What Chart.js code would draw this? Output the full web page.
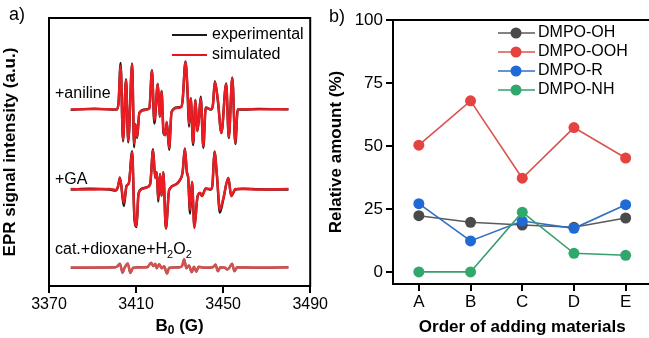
<!DOCTYPE html>
<html>
<head>
<meta charset="utf-8">
<script src="https://cdn.jsdelivr.net/npm/chart.js@4.4.0/dist/chart.umd.min.js"></script>
<style>
html, body { margin: 0; padding: 0; overflow: hidden; background: #fff; width: 649px; height: 338px; }
#epr { position: absolute; left: 0; top: 0; }
#amount { position: absolute; left: 326px; top: 0; }
</style>
</head>
<body>
<canvas id="epr" width="330" height="338"></canvas>
<canvas id="amount" width="331" height="338"></canvas>
<script>
// ---- panel a: EPR spectra (field in G, intensity in a.u., stacked as in the figure)
var anilineField = [3380, 3391, 3401, 3401.9, 3402.9, 3404.0, 3405.4, 3406.4, 3408.2, 3409.1, 3409.7, 3410.5, 3411.5, 3414.3, 3416.1, 3417.3, 3418.4, 3420.0, 3420.9, 3421.7, 3422.6, 3423.4, 3424.1, 3425.2, 3426.3, 3428.9, 3430.7, 3431.4, 3432.7, 3433.7, 3434.3, 3435.1, 3436.2, 3437.3, 3438.1, 3438.9, 3439.7, 3440.9, 3442.0, 3444.4, 3445.3, 3446.2, 3447.6, 3449.2, 3451.4, 3452.6, 3454.2, 3455.6, 3456.7, 3459.4, 3466.3, 3480];
var anilineSim = [65.9, 66.0, 65.9, 67.9, 82.1, 54.5, 76.9, 54.1, 82.8, 53.0, 60.4, 55.6, 64.6, 65.7, 66.4, 80.2, 61.9, 75.4, 63.1, 72.8, 58.2, 56.3, 61.2, 51.5, 64.9, 66.4, 66.8, 69.4, 83.6, 73.1, 60.4, 70.1, 53.4, 69.4, 57.8, 62.7, 70.1, 52.2, 66.4, 66.0, 67.5, 76.1, 69.4, 57.1, 75.4, 55.6, 77.6, 53.4, 65.7, 66.0, 65.9, 66.0];
var anilineExp = [65.7, 66.2, 65.8, 67.9, 83.2, 54.0, 77.2, 53.6, 83.0, 51.8, 60.4, 55.2, 64.6, 65.9, 66.2, 80.5, 60.6, 75.4, 63.1, 72.8, 57.0, 56.3, 61.2, 50.8, 64.9, 66.6, 66.8, 69.4, 83.8, 71.2, 59.5, 70.1, 52.6, 69.4, 57.8, 62.7, 70.6, 51.6, 66.6, 65.8, 67.5, 76.4, 68.8, 57.1, 75.6, 55.2, 77.8, 53.0, 65.9, 65.8, 66.1, 65.9];

var gaField = [3380, 3388.7, 3397.8, 3400.6, 3401.7, 3402.6, 3404.4, 3405.6, 3406.7, 3408.2, 3409.2, 3410.2, 3411.1, 3412.9, 3415.2, 3416.5, 3417.8, 3418.8, 3419.5, 3420.2, 3421.0, 3421.7, 3422.5, 3423.7, 3425.2, 3427.9, 3430.2, 3431.4, 3432.4, 3433.4, 3433.9, 3434.8, 3435.7, 3436.8, 3438.2, 3439.4, 3440.3, 3442.0, 3444.4, 3445.1, 3446.0, 3447.2, 3448.5, 3450.0, 3452.4, 3453.7, 3455.6, 3459.4, 3466.3, 3480];
var gaSim = [36.2, 36.0, 36.2, 35.8, 37.3, 40.3, 31.0, 37.3, 38.4, 50.0, 26.9, 22.4, 34.3, 36.2, 36.9, 38.1, 50.7, 40.3, 42.5, 32.5, 41.8, 33.6, 42.5, 21.6, 35.8, 37.7, 39.6, 42.5, 51.1, 42.5, 40.7, 28.4, 38.8, 21.6, 33.2, 34.7, 33.6, 36.2, 36.2, 37.7, 50.0, 41.0, 28.4, 32.5, 40.3, 33.6, 36.2, 36.2, 36.0, 36.2];
var gaExp = [36.0, 36.3, 36.0, 35.6, 37.0, 40.5, 29.8, 37.3, 38.4, 50.3, 25.8, 22.0, 34.3, 36.4, 36.9, 38.1, 51.0, 40.3, 42.5, 31.5, 41.8, 33.6, 42.5, 21.4, 35.8, 37.7, 39.6, 42.5, 51.3, 42.0, 40.7, 27.0, 38.8, 22.2, 33.2, 34.7, 33.6, 36.4, 36.0, 37.7, 50.2, 40.6, 27.4, 32.0, 40.3, 33.6, 36.0, 36.3, 36.1, 36.0];

var catField = [3380, 3400.1, 3401.5, 3402.6, 3403.8, 3404.7, 3406.2, 3407.4, 3408.6, 3411.5, 3415.2, 3416.9, 3417.9, 3418.8, 3419.5, 3420.6, 3421.8, 3422.9, 3424.2, 3425.2, 3429.8, 3431.1, 3432.1, 3433.1, 3434.3, 3435.6, 3436.6, 3437.7, 3438.7, 3441.6, 3445.3, 3446.5, 3447.6, 3448.7, 3450.8, 3451.9, 3452.8, 3454.1, 3455.2, 3456.4, 3466.3, 3480];
var catSim = [6.9, 6.9, 7.5, 8.2, 5.0, 6.7, 8.4, 4.9, 6.7, 6.9, 7.1, 8.6, 7.5, 8.2, 6.7, 8.0, 6.7, 7.3, 4.7, 6.7, 6.9, 7.5, 9.9, 6.7, 7.6, 5.2, 7.1, 5.4, 7.1, 6.9, 7.1, 7.9, 5.6, 6.9, 6.9, 6.2, 6.7, 8.2, 5.6, 6.9, 6.9, 6.9];
var catExp = [6.8, 7.0, 7.4, 8.3, 4.9, 6.8, 8.3, 4.8, 6.8, 7.0, 7.0, 8.7, 7.4, 8.3, 6.6, 8.1, 6.6, 7.4, 4.6, 6.8, 7.0, 7.4, 10.0, 6.6, 7.7, 5.1, 7.2, 5.3, 7.2, 6.8, 7.0, 8.0, 5.5, 7.0, 6.8, 6.1, 6.8, 8.3, 5.5, 7.0, 6.8, 7.0];

var fieldTicks = [3370, 3410, 3450, 3490];

// ---- panel b: relative amounts (%)
var orders = ['A', 'B', 'C', 'D', 'E'];
var dmpoOH = [22.3, 19.7, 18.6, 17.7, 21.4];
var dmpoOOH = [50.3, 67.9, 37.2, 57.3, 45.2];
var dmpoR = [27.1, 12.3, 20.2, 17.3, 26.7];
var dmpoNH = [0, 0, 23.7, 7.4, 6.6];
var amountTicks = [0, 25, 50, 75, 100];

var FONT = '"Liberation Sans", Arial, sans-serif';
Chart.defaults.font.family = FONT;
Chart.defaults.color = '#000';

function pts(xs, ys) {
  return xs.map(function (x, i) { return { x: x, y: ys[i] }; });
}

var framePlugin = {
  id: 'frame',
  afterDraw: function (chart) {
    var a = chart.chartArea, c = chart.ctx;
    c.save();
    c.strokeStyle = '#000';
    c.lineWidth = 2;
    c.strokeRect(a.left, a.top, a.right - a.left, a.bottom - a.top);
    c.restore();
  }
};

// text with subscripts: runs of [text, isSub]
function textRuns(c, runs, x, y, size, weight) {
  runs.forEach(function (r) {
    var sz = r[1] ? Math.round(size * 0.7) : size;
    c.font = (weight || '') + ' ' + sz + 'px ' + FONT;
    c.fillText(r[0], x, y + (r[1] ? size * 0.3 : 0));
    x += c.measureText(r[0]).width;
  });
}
function runsWidth(c, runs, size, weight) {
  var w = 0;
  runs.forEach(function (r) {
    c.font = (weight || '') + ' ' + (r[1] ? Math.round(size * 0.7) : size) + 'px ' + FONT;
    w += c.measureText(r[0]).width;
  });
  return w;
}

var eprLabels = {
  id: 'eprLabels',
  afterDraw: function (chart) {
    var c = chart.ctx, a = chart.chartArea;
    c.save();
    c.fillStyle = '#000';
    c.textBaseline = 'middle';
    c.font = '18px ' + FONT;
    c.fillText('a)', 9, 15);
    c.font = '16px ' + FONT;
    c.fillText('+aniline', 55, 94);
    c.fillText('+GA', 55, 180);
    textRuns(c, [['cat.+dioxane+H'], ['2', 1], ['O'], ['2', 1]], 55, 250, 16);
    // x axis title B0 (G)
    var title = [['B'], ['0', 1], [' (G)']];
    var w = runsWidth(c, title, 17, 'bold');
    textRuns(c, title, (a.left + a.right) / 2 - w / 2, 326, 17, 'bold');
    // legend
    var rows = [['experimental', '#1a1a1a', 35], ['simulated', '#e8141b', 55]];
    rows.forEach(function (r) {
      c.strokeStyle = r[1];
      c.lineWidth = 2;
      c.beginPath(); c.moveTo(172, r[2]); c.lineTo(207, r[2]); c.stroke();
      c.font = '16px ' + FONT;
      c.fillText(r[0], 212, r[2]);
    });
    c.restore();
  }
};

var simStyle = { borderWidth: 2.4, pointRadius: 0, cubicInterpolationMode: 'monotone', order: 0 };
var expStyle = { borderWidth: 2.4, pointRadius: 0, cubicInterpolationMode: 'monotone', order: 1 };

new Chart(document.getElementById('epr'), {
  type: 'line',
  data: {
    datasets: [
      Object.assign({ label: '+aniline simulated', data: pts(anilineField, anilineSim), borderColor: '#ec1c22' }, simStyle),
      Object.assign({ label: '+GA simulated', data: pts(gaField, gaSim), borderColor: '#ec1c22' }, simStyle),
      Object.assign({ label: 'cat simulated', data: pts(catField, catSim), borderColor: 'rgba(222,80,80,0.9)' }, simStyle),
      Object.assign({ label: '+aniline experimental', data: pts(anilineField, anilineExp), borderColor: '#1a1a1a' }, expStyle),
      Object.assign({ label: '+GA experimental', data: pts(gaField, gaExp), borderColor: '#1a1a1a' }, expStyle),
      Object.assign({ label: 'cat experimental', data: pts(catField, catExp), borderColor: '#8a5050' }, expStyle)
    ]
  },
  options: {
    responsive: false,
    animation: false,
    events: [],
    layout: { padding: { top: 18, right: 18, left: 0, bottom: 0 } },
    plugins: { legend: { display: false }, tooltip: { enabled: false } },
    scales: {
      x: {
        type: 'linear', min: 3370, max: 3490,
        afterBuildTicks: function (axis) { axis.ticks = fieldTicks.map(function (v) { return { value: v }; }); },
        afterFit: function (axis) { axis.height = 52; },
        ticks: { font: { size: 16 }, padding: 2, maxRotation: 0, callback: function (v) { return String(v); } },
        grid: { drawOnChartArea: false, tickLength: 7, color: '#000', lineWidth: 2 },
        border: { display: false },
        title: { display: false }
      },
      y: {
        type: 'linear', min: 0, max: 100,
        afterFit: function (axis) { axis.width = 49; },
        ticks: { display: false },
        grid: { display: false },
        border: { display: false },
        title: { display: true, text: 'EPR signal intensity (a.u.)', font: { size: 17, weight: 'bold' }, padding: { top: 0, bottom: 0 } }
      }
    }
  },
  plugins: [framePlugin, eprLabels]
});

// ---- panel b
var series = [
  { label: 'DMPO-OH', data: dmpoOH, line: '#5a5a5a', dot: '#4a4a4a', order: 4 },
  { label: 'DMPO-OOH', data: dmpoOOH, line: '#d9534f', dot: '#e5433f', order: 3 },
  { label: 'DMPO-R', data: dmpoR, line: '#2f6fc4', dot: '#1f6ad6', order: 2 },
  { label: 'DMPO-NH', data: dmpoNH, line: '#3a9d6d', dot: '#30a86c', order: 1 }
];

var amountLabels = {
  id: 'amountLabels',
  afterDraw: function (chart) {
    var c = chart.ctx;
    c.save();
    c.fillStyle = '#000';
    c.textBaseline = 'middle';
    c.font = '18px ' + FONT;
    c.fillText('b)', 3, 17);
    series.forEach(function (s, i) {
      var y = 33 + i * 19;
      c.strokeStyle = s.line;
      c.lineWidth = 1.6;
      c.beginPath(); c.moveTo(172, y); c.lineTo(209, y); c.stroke();
      c.fillStyle = s.dot;
      c.beginPath(); c.arc(190, y, 5.5, 0, Math.PI * 2); c.fill();
      c.fillStyle = '#000';
      c.font = '16px ' + FONT;
      c.fillText(s.label, 212, y);
    });
    c.restore();
  }
};

new Chart(document.getElementById('amount'), {
  type: 'line',
  data: {
    labels: orders,
    datasets: series.map(function (s) {
      return {
        label: s.label, data: s.data, order: s.order,
        borderColor: s.line, borderWidth: 1.6, tension: 0,
        pointRadius: 5.5, pointBackgroundColor: s.dot, pointBorderColor: s.dot, pointBorderWidth: 0
      };
    })
  },
  options: {
    responsive: false,
    animation: false,
    events: [],
    layout: { padding: { top: 20, right: 0, left: 0, bottom: 0 } },
    plugins: { legend: { display: false }, tooltip: { enabled: false } },
    scales: {
      x: {
        type: 'category', offset: true,
        afterFit: function (axis) { axis.height = 54; },
        ticks: { font: { size: 17 }, padding: 1, maxRotation: 0 },
        grid: { offset: false, drawOnChartArea: false, tickLength: 7, color: '#000', lineWidth: 2 },
        border: { display: false },
        title: { display: true, text: 'Order of adding materials', font: { size: 17, weight: 'bold' }, padding: { top: 0, bottom: 0 } }
      },
      y: {
        type: 'linear', min: -4.8, max: 100,
        afterBuildTicks: function (axis) { axis.ticks = amountTicks.map(function (v) { return { value: v }; }); },
        afterFit: function (axis) { axis.width = 67; },
        ticks: { font: { size: 17 }, padding: 3 },
        grid: { drawOnChartArea: false, tickLength: 7, color: '#000', lineWidth: 2 },
        border: { display: false },
        title: { display: true, text: 'Relative amount (%)', font: { size: 17, weight: 'bold' }, padding: { top: 0, bottom: 0 } }
      }
    }
  },
  plugins: [framePlugin, amountLabels]
});
</script>
</body>
</html>
